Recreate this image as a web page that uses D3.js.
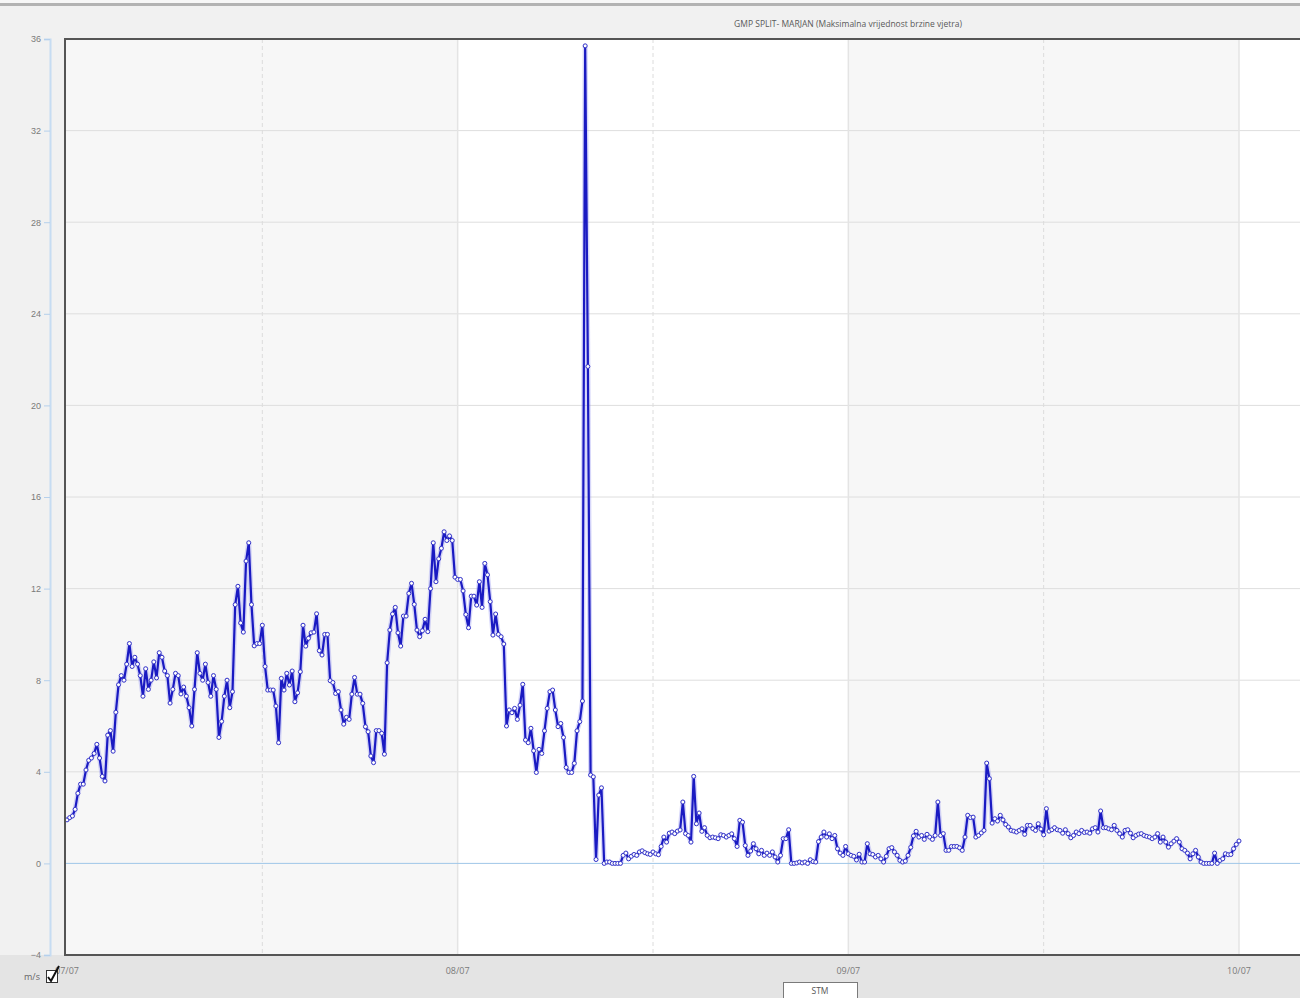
<!DOCTYPE html>
<html>
<head>
<meta charset="utf-8">
<script src="https://cdn.jsdelivr.net/npm/d3@7/dist/d3.min.js"></script>
<style>
  html, body { margin: 0; padding: 0; background: #f1f1f1; overflow: hidden; }
  svg { display: block; font-family: 'Open Sans', 'DejaVu Sans', sans-serif; }
</style>
</head>
<body>
<svg id="chart" width="1300" height="998"></svg>
<script>
const title = 'GMP SPLIT- MARJAN (Maksimalna vrijednost brzine vjetra)';
const unitLabel = 'm/s';
const seriesName = 'STM';
const dayLabels = ['07/07', '08/07', '09/07', '10/07'];
const dayHours = [0, 24, 48, 72];
const noonHours = [12, 36, 60];
const yTicks = [-4, 0, 4, 8, 12, 16, 20, 24, 28, 32, 36];
const stepMinutes = 10;

// max wind speed, m/s, one value every 10 minutes from 07/07 00:00
const day1 = [
  1.9, 2.0, 2.07, 2.36, 3.06, 3.46, 3.46, 4.08, 4.5, 4.6, 4.8, 5.2, 4.6, 3.8, 3.6, 5.6, 5.8, 4.9, 6.6, 7.8,
  8.2, 8.0, 8.7, 9.6, 8.6, 9.0, 8.7, 8.2, 7.3, 8.5, 7.6, 8.0, 8.8, 8.1, 9.2, 9.0, 8.4, 8.2, 7.0, 7.6,
  8.3, 8.2, 7.4, 7.7, 7.3, 6.8, 6.0, 7.6, 9.2, 8.3, 8.0, 8.7, 7.9, 7.3, 8.2, 7.6, 5.5, 6.2, 7.3, 8.0,
  6.8, 7.5, 11.3, 12.1, 10.5, 10.1, 13.2, 14.0, 11.3, 9.5, 9.6, 9.6, 10.4, 8.6,
  7.57, 7.57, 7.57, 6.87, 5.27, 8.08, 7.57, 8.3, 7.79, 8.4,
  7.06, 7.45, 8.37, 10.4, 9.49, 9.83, 10.07, 10.1, 10.9, 9.29,
  9.1, 10.0, 10.0, 7.98, 7.9, 7.42, 7.5, 6.7, 6.08, 6.38,
  6.29, 7.39, 8.12, 7.39, 7.39, 6.99, 5.97, 5.75, 4.69, 4.4,
  5.8, 5.8, 5.68, 4.77, 8.76, 10.19, 10.89, 11.18, 10.07, 9.49,
  10.8, 10.8, 11.79, 12.23, 11.31, 10.19, 9.9, 10.16, 10.66, 10.12,
  12.0, 14.0, 12.3, 13.3, 13.76, 14.48, 14.1, 14.3, 14.1, 12.5
];
const day2 = [
  12.4, 12.4, 11.9, 10.87, 10.29, 11.67, 11.67, 11.28, 12.3, 11.18,
  13.1, 12.6, 11.43, 9.97, 10.89, 10.0, 9.9, 9.58, 6.0, 6.7,
  6.58, 6.77, 6.29, 6.91, 7.82, 5.39, 5.27, 5.9, 4.92, 3.97,
  4.98, 4.8, 5.79, 6.77, 7.5, 7.57, 6.7, 5.97, 6.11, 5.5,
  4.19, 3.97, 3.97, 4.37, 5.79, 6.19, 7.09, 35.7, 21.7, 3.86,
  3.78, 0.17, 2.98, 3.3, 0, 0.06, 0.06, 0, 0, 0,
  0, 0.35, 0.45, 0.2, 0.31, 0.39, 0.35, 0.5, 0.55, 0.47,
  0.42, 0.39, 0.5, 0.42, 0.38, 0.74, 1.15, 0.93, 1.32, 1.37,
  1.3, 1.41, 1.46, 2.68, 1.3, 1.22, 0.93, 3.8, 1.73, 2.2,
  1.4, 1.56, 1.22, 1.12, 1.15, 1.12, 1.08, 1.25, 1.22, 1.15,
  1.22, 1.29, 1.08, 0.74, 1.88, 1.8, 0.78, 0.35, 0.54, 0.86,
  0.64, 0.42, 0.57, 0.35, 0.45, 0.35, 0.5, 0.28, 0.06, 0.35,
  1.08, 1.08, 1.47, 0, 0, 0.02, 0.06, 0.02, 0.06, 0,
  0.16, 0.08, 0.06, 0.95
];
const day3 = [
  1.15, 1.37, 1.15, 1.29, 1.08, 1.22, 0.64, 0.45, 0.35, 0.74,
  0.42, 0.35, 0.31, 0.15, 0.4, 0.06, 0.06, 0.86, 0.42, 0.39,
  0.28, 0.35, 0.2, 0.06, 0.31, 0.64, 0.69, 0.5, 0.35, 0.13,
  0.06, 0.1, 0.35, 0.7, 1.2, 1.4, 1.15, 1.22, 1.05, 1.27,
  1.15, 1.05, 1.22, 2.68, 1.22, 1.3, 0.57, 0.57, 0.74, 0.74,
  0.74, 0.68, 0.57, 1.15, 2.1, 2.0, 2.02, 1.15, 1.22, 1.33,
  1.44, 4.38, 3.7, 1.76, 1.95, 1.85, 2.1, 1.9, 1.7, 1.59,
  1.44, 1.41, 1.37, 1.44, 1.51, 1.27, 1.66, 1.66, 1.52, 1.44,
  1.73, 1.5, 1.25, 2.39, 1.41, 1.47, 1.56, 1.47, 1.44, 1.32,
  1.47, 1.3, 1.12, 1.22, 1.37, 1.3, 1.44, 1.35, 1.37, 1.32,
  1.51, 1.56, 1.37, 2.29, 1.56, 1.56, 1.51, 1.47, 1.66, 1.44,
  1.3, 1.15, 1.44, 1.47, 1.32, 1.12, 1.22, 1.28, 1.3, 1.22,
  1.18, 1.15, 1.08, 1.15, 1.3, 0.93, 1.15, 0.93, 0.71, 0.86,
  0.97, 1.08, 0.93, 0.64, 0.57, 0.45, 0.2, 0.42, 0.57, 0.28,
  0.06, 0, 0, 0, 0, 0.45, 0, 0.13, 0.2, 0.42,
  0.38, 0.39, 0.64, 0.83, 0.98
];
const windMax = [...day1, ...day2, ...day3];

const svg = d3.select('#chart');
const width = +svg.attr('width');
const height = +svg.attr('height');

const plot = { left: 65, top: 39, bottom: 955, right: 1320 };

const x = d3.scaleLinear().domain([0, 72]).range([67, 1239]);
const y = d3.scaleLinear().domain([-4, 36]).range([plot.bottom, plot.top]);

const points = windMax.map((v, i) => ({ h: i * stepMinutes / 60, v }));

// page chrome
svg.append('rect').attr('width', width).attr('height', height).attr('fill', '#f1f1f1');
svg.append('rect').attr('y', 0).attr('width', width).attr('height', 3).attr('fill', '#f7f7f7');
svg.append('rect').attr('y', 3).attr('width', width).attr('height', 3).attr('fill', '#b3b3b3');
svg.append('rect').attr('y', plot.bottom).attr('width', width).attr('height', height - plot.bottom).attr('fill', '#e4e4e4');

// plot background, one band per day (grey, white, grey, white)
const bandEdges = [x.invert(plot.left), 24, 48, 72, x.invert(plot.right)];
svg.append('g').selectAll('rect')
  .data(d3.range(bandEdges.length - 1))
  .enter()
  .append('rect')
  .attr('x', i => x(bandEdges[i]))
  .attr('y', plot.top)
  .attr('width', i => x(bandEdges[i + 1]) - x(bandEdges[i]))
  .attr('height', plot.bottom - plot.top)
  .attr('fill', i => (i % 2 === 0 ? '#f7f7f7' : '#ffffff'));

// grid
svg.append('g').selectAll('line')
  .data(yTicks.filter(t => t !== 0 && t !== -4 && t !== 36))
  .enter()
  .append('line')
  .attr('x1', plot.left).attr('x2', plot.right)
  .attr('y1', d => y(d)).attr('y2', d => y(d))
  .attr('stroke', '#dedede').attr('stroke-width', 1);

svg.append('g').selectAll('line')
  .data(dayHours.slice(1))
  .enter()
  .append('line')
  .attr('x1', d => x(d)).attr('x2', d => x(d))
  .attr('y1', plot.top).attr('y2', plot.bottom)
  .attr('stroke', '#e4e4e4').attr('stroke-width', 1.5);

svg.append('g').selectAll('line')
  .data(noonHours)
  .enter()
  .append('line')
  .attr('x1', d => x(d)).attr('x2', d => x(d))
  .attr('y1', plot.top).attr('y2', plot.bottom)
  .attr('stroke', '#dcdcdc').attr('stroke-width', 1)
  .attr('stroke-dasharray', '4,3');

svg.append('line')
  .attr('x1', plot.left).attr('x2', plot.right)
  .attr('y1', y(0)).attr('y2', y(0))
  .attr('stroke', '#9fc6e8').attr('stroke-width', 1);

// y axis on the left, light blue
const yAxis = svg.append('g').attr('transform', 'translate(50,0)')
  .call(d3.axisLeft(y).tickValues(yTicks).tickSize(6).tickPadding(3));
yAxis.select('.domain').attr('stroke', '#c6dcf2').attr('stroke-width', 2);
yAxis.selectAll('.tick line').attr('stroke', '#b5d0ec');
yAxis.selectAll('.tick text')
  .attr('fill', '#7a7a7a')
  .style('font-size', '9px');

// x labels
svg.append('g').selectAll('text')
  .data(dayHours)
  .enter()
  .append('text')
  .attr('x', d => x(d))
  .attr('y', 974)
  .attr('text-anchor', 'middle')
  .attr('fill', '#7a7a7a')
  .style('font-size', '9px')
  .text((d, i) => dayLabels[i]);

// series
const line = d3.line().x(d => x(d.h)).y(d => y(d.v));

svg.append('path')
  .datum(points)
  .attr('d', line)
  .attr('fill', 'none')
  .attr('stroke', '#8c8cf0')
  .attr('stroke-opacity', 0.35)
  .attr('stroke-width', 5)
  .attr('stroke-linejoin', 'round');

svg.append('path')
  .datum(points)
  .attr('d', line)
  .attr('fill', 'none')
  .attr('stroke', '#1a1ac2')
  .attr('stroke-width', 2.2)
  .attr('stroke-linejoin', 'round');

svg.append('g').selectAll('circle')
  .data(points)
  .enter()
  .append('circle')
  .attr('cx', d => x(d.h))
  .attr('cy', d => y(d.v))
  .attr('r', 2)
  .attr('fill', '#ffffff')
  .attr('stroke', '#3434c8')
  .attr('stroke-width', 1);

// frame
svg.append('path')
  .attr('d', `M${plot.right},${plot.top}H${plot.left}V${plot.bottom}H${plot.right}`)
  .attr('fill', 'none')
  .attr('stroke', '#555555')
  .attr('stroke-width', 2);

// title
svg.append('text')
  .attr('x', 848)
  .attr('y', 27)
  .attr('text-anchor', 'middle')
  .attr('fill', '#5a5a5a')
  .style('font-size', '8.5px')
  .text(title);

// legend: unit + checkbox
svg.append('text')
  .attr('x', 24)
  .attr('y', 980)
  .attr('fill', '#666666')
  .style('font-size', '9px')
  .text(unitLabel);

svg.append('rect')
  .attr('x', 46.5).attr('y', 970.5)
  .attr('width', 11).attr('height', 12)
  .attr('fill', '#ffffff')
  .attr('stroke', '#333333');

svg.append('path')
  .attr('d', 'M48,977 L51,981 L59,966')
  .attr('fill', 'none')
  .attr('stroke', '#111111')
  .attr('stroke-width', 2);

// series button
svg.append('rect')
  .attr('x', 783.5).attr('y', 982.5)
  .attr('width', 74).attr('height', 20)
  .attr('fill', '#ffffff')
  .attr('stroke', '#7a7a7a');

svg.append('text')
  .attr('x', 820)
  .attr('y', 994)
  .attr('text-anchor', 'middle')
  .attr('fill', '#555555')
  .style('font-size', '8.5px')
  .text(seriesName);
</script>
</body>
</html>
